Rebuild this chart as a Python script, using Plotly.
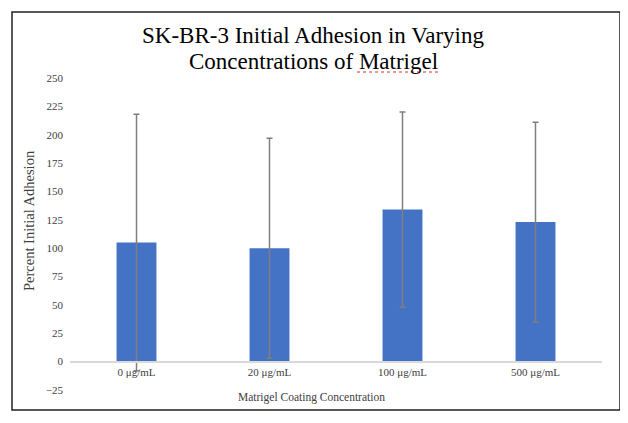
import plotly.graph_objects as go

categories = ["0 μg/mL", "20 μg/mL", "100 μg/mL", "500 μg/mL"]
adhesion = [105, 100, 134, 123]
errors = [113, 97, 86, 88]
y_ticks = [-25, 0, 25, 50, 75, 100, 125, 150, 175, 200, 225, 250]
title_lines = ["SK-BR-3 Initial Adhesion in Varying", "Concentrations of Matrigel"]

FONT = "Liberation Serif"

# page pixel -> paper coords (plot area spans page x 70..602, y 78..390)
def px(x):
    return (x - 70) / 532

def py(y):
    return (390 - y) / 312

fig = go.Figure()
fig.add_trace(go.Bar(
    x=categories, y=adhesion,
    marker=dict(color="#4472C4", line=dict(width=0)),
    error_y=dict(type="data", array=errors, visible=True,
                 color="#7f7f7f", thickness=1.5, width=3),
))

annotations = [
    dict(text=line, xref="paper", yref="paper", x=px(313), y=py(yc),
         showarrow=False, font=dict(family=FONT, size=23, color="#000000"),
         xanchor="center", yanchor="middle")
    for line, yc in zip(title_lines, [35, 62])
]
annotations += [
    dict(text="Matrigel Coating Concentration",
         xref="paper", yref="paper", x=px(311), y=py(397),
         showarrow=False, font=dict(family=FONT, size=11.5, color="#404040"),
         xanchor="center", yanchor="middle"),
    dict(text="Percent Initial Adhesion",
         xref="paper", yref="paper", x=px(29), y=py(221),
         showarrow=False, textangle=-90, font=dict(family=FONT, size=14.5, color="#404040"),
         xanchor="center", yanchor="middle"),
]

fig.update_layout(
    width=620, height=415,
    margin=dict(l=62, r=26, t=70, b=33),
    paper_bgcolor="white", plot_bgcolor="white",
    bargap=0.7,
    showlegend=False,
    font=dict(family=FONT, color="#404040", size=11),
    xaxis=dict(
        anchor="free", position=25 / 275,
        showline=True, linecolor="#d9d9d9", linewidth=1.5,
        ticks="", showgrid=False, zeroline=False,
        tickfont=dict(family=FONT, size=11, color="#404040"),
    ),
    yaxis=dict(
        range=[-25, 250], tickvals=y_ticks,
        showgrid=False, zeroline=False, showline=False,
        tickfont=dict(family=FONT, size=11, color="#404040"),
        ticklabelstandoff=6,
    ),
    annotations=annotations,
    shapes=[
        dict(type="rect", xref="paper", yref="paper",
             x0=px(12), x1=px(620), y0=py(410), y1=py(12),
             line=dict(color="#222222", width=1.5), fillcolor="rgba(0,0,0,0)"),
        dict(type="line", xref="paper", yref="paper",
             x0=px(357), x1=px(438), y0=py(72), y1=py(72),
             line=dict(color="#e03030", width=1, dash="dot")),
    ],
)

fig.write_html("out.html")
